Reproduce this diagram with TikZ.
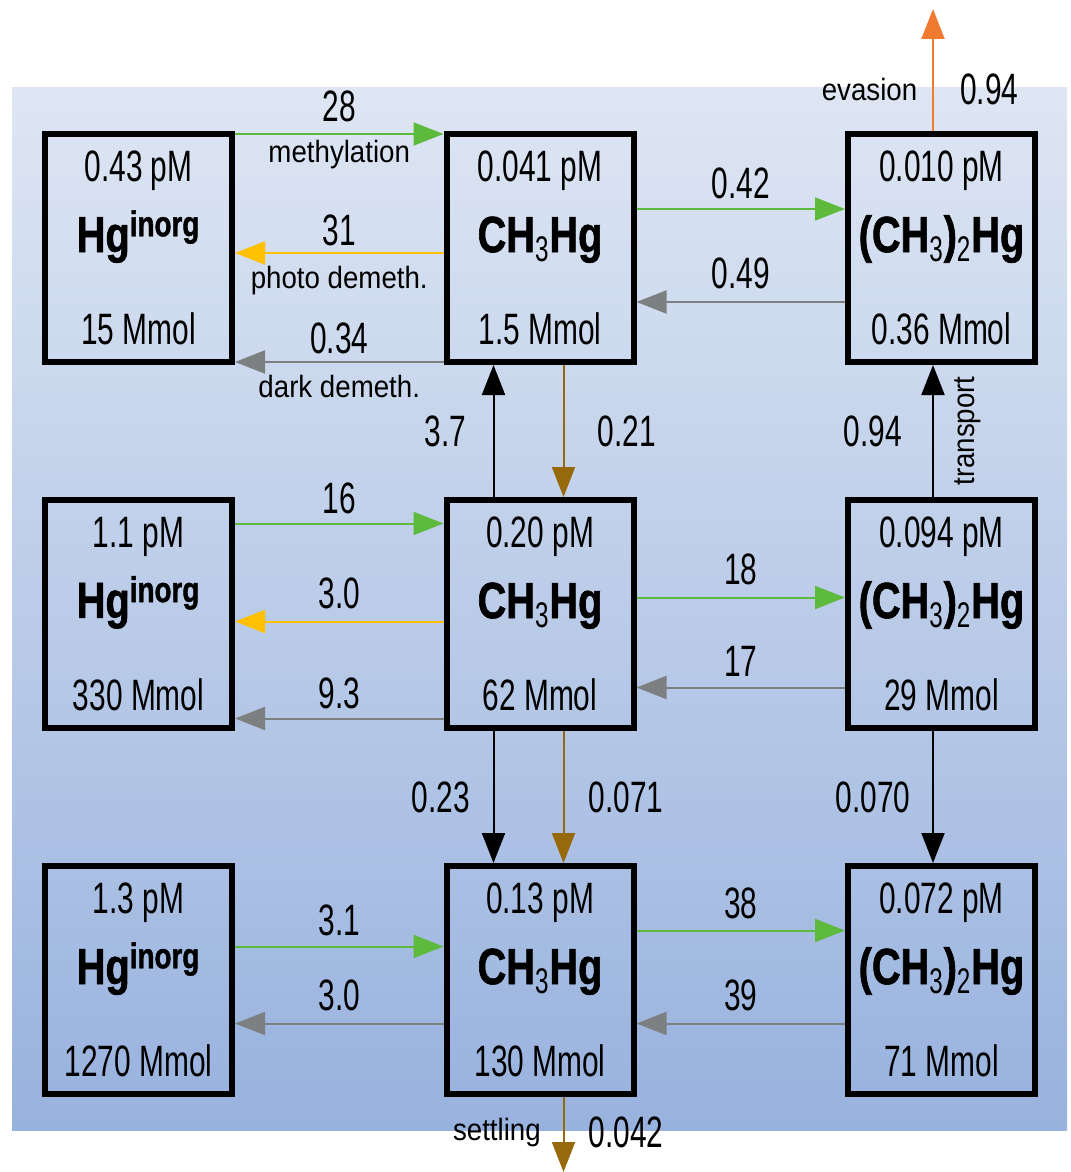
\documentclass[tikz,border=0pt]{standalone}
\usepackage{fontspec}
\setsansfont{Liberation Sans}
\newfontfamily\condfont[FakeStretch=0.68,BoldFeatures={FakeStretch=0.78,FakeBold=1.2}]{Liberation Sans}
\newfontfamily\procfont[FakeStretch=0.9]{Liberation Sans}
\usepackage{tikz}
\usetikzlibrary{arrows.meta, positioning}

\definecolor{MethGreen}{RGB}{94,186,60}
\definecolor{PhotoYellow}{RGB}{255,192,0}
\definecolor{FlowGray}{RGB}{125,128,128}
\definecolor{SinkBrown}{RGB}{150,105,10}
\definecolor{EvasionOrange}{RGB}{240,122,48}
\definecolor{SeaTop}{RGB}{222,230,243}
\definecolor{SeaMid}{RGB}{205,217,237}
\definecolor{SeaBottom}{RGB}{152,178,222}

\begin{document}
\begin{tikzpicture}[
  >={Triangle[length=0.6cm, width=0.46cm]},
  node distance=2.64cm and 4.17cm,
  pool/.style={draw, line width=0.12cm, minimum width=3.74cm, minimum height=4.56cm,
    inner sep=0pt, align=center, font=\condfont\fontsize{25}{30}\selectfont},
  arr/.style={->, line width=0.04cm},
  num/.style={font=\condfont\fontsize{25}{30}\selectfont, text=black, inner sep=1.5pt},
  proc/.style={font=\procfont\fontsize{17.5}{20}\selectfont, text=black, inner sep=1pt},
]
\useasboundingbox (0,0) rectangle (21.42,-23.44);
\fill[top color=SeaTop, middle color=SeaMid, bottom color=SeaBottom] (0.24,-1.76) rectangle (21.34,-22.6);

% surface layer
\node[pool] (hgTop) at (2.77,-4.96) {0.43 pM\\[0.36cm]{\bfseries\fontsize{29}{30}\selectfont Hg\textsuperscript{inorg}}\\[0.8cm]15 Mmol};
\node[pool, right=of hgTop] (mmTop) {0.041 pM\\[0.36cm]{\bfseries\fontsize{29}{30}\selectfont CH\textsubscript{\mdseries 3}Hg}\\[0.8cm]1.5 Mmol};
\node[pool, right=of mmTop] (dmTop) {0.010 pM\\[0.36cm]{\bfseries\fontsize{29}{30}\selectfont (CH\textsubscript{\mdseries 3})\textsubscript{\mdseries 2}Hg}\\[0.8cm]0.36 Mmol};

% intermediate layer
\node[pool, below=of hgTop] (hgMid) {1.1 pM\\[0.36cm]{\bfseries\fontsize{29}{30}\selectfont Hg\textsuperscript{inorg}}\\[0.8cm]330 Mmol};
\node[pool, right=of hgMid] (mmMid) {0.20 pM\\[0.36cm]{\bfseries\fontsize{29}{30}\selectfont CH\textsubscript{\mdseries 3}Hg}\\[0.8cm]62 Mmol};
\node[pool, right=of mmMid] (dmMid) {0.094 pM\\[0.36cm]{\bfseries\fontsize{29}{30}\selectfont (CH\textsubscript{\mdseries 3})\textsubscript{\mdseries 2}Hg}\\[0.8cm]29 Mmol};

% deep layer
\node[pool, below=of hgMid] (hgDeep) {1.3 pM\\[0.36cm]{\bfseries\fontsize{29}{30}\selectfont Hg\textsuperscript{inorg}}\\[0.8cm]1270 Mmol};
\node[pool, right=of hgDeep] (mmDeep) {0.13 pM\\[0.36cm]{\bfseries\fontsize{29}{30}\selectfont CH\textsubscript{\mdseries 3}Hg}\\[0.8cm]130 Mmol};
\node[pool, right=of mmDeep] (dmDeep) {0.072 pM\\[0.36cm]{\bfseries\fontsize{29}{30}\selectfont (CH\textsubscript{\mdseries 3})\textsubscript{\mdseries 2}Hg}\\[0.8cm]71 Mmol};

\coordinate (air) at ([xshift=-0.17cm, yshift=2.44cm]dmTop.north);
\coordinate (sed) at ([xshift=0.47cm, yshift=-1.5cm]mmDeep.south);

% surface fluxes
\draw[arr, MethGreen] ([yshift=2.28cm]hgTop.east) -- node[num, above=0.17cm] {28} node[proc, below=0.06cm] {methylation} ([yshift=2.28cm]mmTop.west);
\draw[arr, PhotoYellow] ([yshift=-0.1cm]mmTop.west) -- node[num, above=0.07cm] {31} node[proc, below=0.2cm] {photo demeth.} ([yshift=-0.1cm]hgTop.east);
\draw[arr, FlowGray] ([yshift=-2.28cm]mmTop.west) -- node[num, above=0.09cm] {0.34} node[proc, below=0.2cm] {dark demeth.} ([yshift=-2.28cm]hgTop.east);
\draw[arr, MethGreen] ([yshift=0.78cm]mmTop.east) -- node[num, above=0.13cm] {0.42} ([yshift=0.78cm]dmTop.west);
\draw[arr, FlowGray] ([yshift=-1.08cm]dmTop.west) -- node[num, above=0.19cm] {0.49} ([yshift=-1.08cm]mmTop.east);
\draw[arr, EvasionOrange] ([xshift=-0.17cm]dmTop.north) -- node[pos=0.34, proc, left=0.26cm] {evasion} node[pos=0.34, num, right=0.47cm] {0.94} (air);

% exchange surface / intermediate
\draw[arr] ([xshift=-0.93cm]mmMid.north) -- node[num, left=0.47cm] {3.7} ([xshift=-0.93cm]mmTop.south);
\draw[arr, SinkBrown] ([xshift=0.47cm]mmTop.south) -- node[num, right=0.61cm] {0.21} ([xshift=0.47cm]mmMid.north);
\draw[arr] ([xshift=-0.17cm]dmMid.north) -- node[num, left=0.55cm] {0.94} node[proc, xshift=0.38cm, rotate=90, anchor=north] {transport} ([xshift=-0.17cm]dmTop.south);

% intermediate fluxes
\draw[arr, MethGreen] ([yshift=1.81cm]hgMid.east) -- node[num, above=0.11cm] {16} ([yshift=1.81cm]mmMid.west);
\draw[arr, PhotoYellow] ([yshift=-0.15cm]mmMid.west) -- node[num, above=0.17cm] {3.0} ([yshift=-0.15cm]hgMid.east);
\draw[arr, FlowGray] ([yshift=-2.09cm]mmMid.west) -- node[num, above=0.11cm] {9.3} ([yshift=-2.09cm]hgMid.east);
\draw[arr, MethGreen] ([yshift=0.33cm]mmMid.east) -- node[num, above=0.17cm] {18} ([yshift=0.33cm]dmMid.west);
\draw[arr, FlowGray] ([yshift=-1.47cm]dmMid.west) -- node[num, above=0.15cm] {17} ([yshift=-1.47cm]mmMid.east);

% exchange intermediate / deep
\draw[arr] ([xshift=-0.93cm]mmMid.south) -- node[num, left=0.4cm] {0.23} ([xshift=-0.93cm]mmDeep.north);
\draw[arr, SinkBrown] ([xshift=0.47cm]mmMid.south) -- node[num, right=0.43cm] {0.071} ([xshift=0.47cm]mmDeep.north);
\draw[arr] ([xshift=-0.17cm]dmMid.south) -- node[num, left=0.38cm] {0.070} ([xshift=-0.17cm]dmDeep.north);

% deep fluxes
\draw[arr, MethGreen] ([yshift=0.67cm]hgDeep.east) -- node[num, above=0.13cm] {3.1} ([yshift=0.67cm]mmDeep.west);
\draw[arr, FlowGray] ([yshift=-0.87cm]mmDeep.west) -- node[num, above=0.17cm] {3.0} ([yshift=-0.87cm]hgDeep.east);
\draw[arr, MethGreen] ([yshift=0.99cm]mmDeep.east) -- node[num, above=0.15cm] {38} ([yshift=0.99cm]dmDeep.west);
\draw[arr, FlowGray] ([yshift=-0.87cm]dmDeep.west) -- node[num, above=0.17cm] {39} ([yshift=-0.87cm]mmDeep.east);
\draw[arr, SinkBrown] ([xshift=0.47cm]mmDeep.south) -- node[pos=0.47, proc, left=0.4cm] {settling} node[pos=0.47, num, right=0.43cm] {0.042} (sed);

\end{tikzpicture}
\end{document}
